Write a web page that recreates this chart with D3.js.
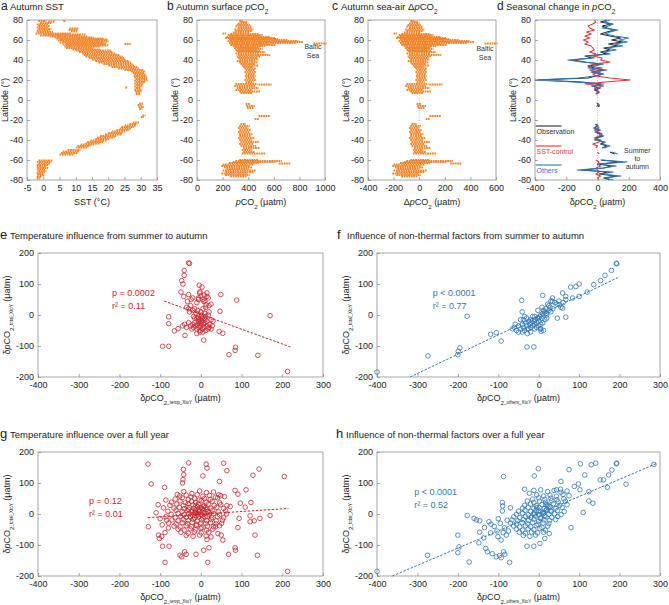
<!DOCTYPE html>
<html><head><meta charset="utf-8">
<script src="https://cdn.jsdelivr.net/npm/d3@7"></script>
<style>body{margin:0;background:#fff}svg{font-family:"Liberation Sans",Arial,sans-serif}</style>
</head><body><svg id="fig" width="669" height="605"></svg>
<script>
// ---------- DATA ----------
const latTicks = [-80,-60,-40,-20,0,20,40,60,80];
const sstTicks = [-5,0,5,10,15,20,25,30,35];
const pco2Ticks = [0,200,400,600,800,1000];
const dpco2Ticks = [-400,-200,0,200,400,600];
const seasTicks = [-400,-200,0,200,400];
const scatXTicks = [-400,-300,-200,-100,0,100,200,300];
const scatYTicks = [-200,-100,0,100,200];

// Panel a: autumn SST, streaks [lat, sstMin, sstMax]
const sstStreaks = [[79,-1.5,0.5],[78.5,1.5,3],[79,6.2,6.5],[77,-1,2],[75.5,-2,1],[74,-1.5,1.5],[72.5,-2,1],[71,-1.5,2],[71.5,8,10.5],[70,7.8,10],[69.5,-2,1.5],[68,-1.8,2.5],[68.5,8.5,10],[66.5,-2.4,8],[65.5,0,12.5],[64.5,-1,11],[63.5,2,13],[62.5,3.5,15],[61.5,4,18],[60.5,5,19.5],[59.5,4.5,19],[58.5,6,19.7],[57.5,5,18],[56.5,7,19],[55.5,6,18.5],[56,25,26.4],[54.5,7,19.5],[53.5,6.5,17],[52,7,15],[50.5,9,17],[49.5,10,20.5],[48,11,21],[46.5,12,22],[45,12.5,23],[43.5,13,24],[42,14,24.5],[40.5,15,25],[39,16,26],[37.5,17,26.5],[36,18.5,27],[34.5,20,27.5],[33,21,28.5],[31.5,23,29],[30,25,30.5],[28.5,27,31],[27,27.5,30.5],[25.5,28,31],[24,27.8,31.3],[22.5,28,31.5],[21,28.5,31.5],[19.5,28,31.6],[18,28.5,31],[16.5,28,30.5],[15,28.5,30],[13.5,28,30],[12.5,25.2,25.5],[12,28.5,29.5],[10.5,28,30],[9,28.2,29.8],[7.5,28.5,29.5],[6,28.5,29.5],[-3.5,29.5,30.2],[-5,29,30],[-7,29.3,30.5],[-9,29.5,30],[-15.5,30.5,31],[-17,30,30.5],[-22.5,27.5,29],[-24,26.5,28.5],[-25.5,25,28],[-27,24,27.5],[-28.5,23.5,26.5],[-30,22.5,26],[-31.5,21,25],[-33,20,24],[-34.5,19,23.5],[-36,17.5,22],[-37.5,16.5,21.5],[-39,16,20],[-40.5,14.5,19],[-42,13.5,18],[-43.5,13,17],[-44.5,11.5,15],[-46,10.5,14],[-47.5,10,13],[-50,7.5,11],[-51.5,6,10.5],[-53,5.5,10],[-54.5,5,9],[-60.5,-1.5,2.5],[-62,-2,2],[-63.5,-1.5,1.5],[-65,-2,1],[-66.5,-2,0.5],[-68,-1.8,1],[-69.5,-2,0],[-71,-1.5,0.5],[-72.5,-2,0],[-74,-2,-0.5],[-75.5,-1.8,0],[-77,-2,-1],[-78.5,-2,-1.5]];

// Panel b: autumn surface pCO2 streaks [lat, min, max]
const pco2Streaks = [[79,330,345],[78,340,380],[76.5,320,390],[75,310,400],[73.5,300,420],[72,320,410],[70.5,290,430],[69,300,420],[67.5,280,400],[66.5,200,215],[66,260,470],[65,240,500],[64,250,480],[63,230,560],[62,220,600],[61,250,620],[60,260,700],[59,240,780],[58,270,820],[57,250,760],[56.5,910,1000],[56,270,560],[55,260,600],[54,280,520],[53,300,480],[52,290,460],[51,320,500],[50,300,450],[49,310,480],[48,320,520],[46.5,300,470],[45,320,560],[43.5,310,480],[42,320,460],[40.5,330,470],[39,310,450],[37.5,330,460],[36,340,440],[34.5,350,470],[33,360,430],[31.5,370,450],[30,380,440],[28,370,450],[26,380,440],[24,375,445],[22,380,440],[20,370,450],[18,380,430],[16,300,460],[15.5,480,570],[14,290,440],[12,310,470],[10,300,420],[8.5,330,480],[7,340,420],[-4,380,400],[-6,385,440],[-8,390,430],[-16,480,560],[-19,450,470],[-24,340,370],[-26,330,400],[-28,320,390],[-30,330,410],[-32,320,400],[-34,330,420],[-36,330,410],[-38,320,440],[-40,330,420],[-42,340,470],[-44,330,430],[-46,340,450],[-48,360,480],[-50,350,420],[-52,360,440],[-53.5,350,520],[-60,330,470],[-61,300,650],[-62,280,600],[-63,250,470],[-63.5,640,720],[-64.5,200,430],[-66,190,400],[-67.5,210,420],[-69,230,390],[-70.5,200,450],[-72,220,430],[-73.5,190,380],[-75,220,400],[-76.5,260,380]];

// Panel c: autumn sea-air delta pCO2 streaks [lat, min, max]
const dpco2Streaks = [[79,-70,-55],[78,-60,-20],[76.5,-80,-10],[75,-90,0],[73.5,-100,20],[72,-80,10],[70.5,-110,30],[69,-100,20],[67.5,-120,0],[66.5,-200,-185],[66,-140,70],[65,-160,100],[64,-150,80],[63,-170,160],[62,-180,200],[61,-150,220],[60,-140,300],[59,-160,380],[58,-130,420],[57,-150,360],[56.5,510,600],[56,-130,160],[55,-140,200],[54,-120,120],[53,-100,80],[52,-110,60],[51,-80,100],[50,-100,50],[49,-90,80],[48,-80,120],[46.5,-100,70],[45,-80,160],[43.5,-90,80],[42,-80,60],[40.5,-70,70],[39,-90,50],[37.5,-70,60],[36,-60,40],[34.5,-50,70],[33,-40,30],[31.5,-30,50],[30,-20,40],[28,-30,50],[26,-20,40],[24,-25,45],[22,-20,40],[20,-30,50],[18,-20,30],[16,-100,60],[15.5,80,170],[14,-110,40],[12,-90,70],[10,-100,20],[8.5,-70,80],[7,-60,20],[-4,-20,0],[-6,-15,40],[-8,-10,30],[-16,80,160],[-19,50,70],[-24,-60,-30],[-26,-70,0],[-28,-80,-10],[-30,-70,10],[-32,-80,0],[-34,-70,20],[-36,-70,10],[-38,-80,40],[-40,-70,20],[-42,-60,70],[-44,-70,30],[-46,-60,50],[-48,-40,80],[-50,-50,20],[-52,-40,40],[-53.5,-50,120],[-60,-70,70],[-61,-100,250],[-62,-120,200],[-63,-150,70],[-63.5,240,320],[-64.5,-200,30],[-66,-210,0],[-67.5,-190,20],[-69,-170,-10],[-70.5,-200,50],[-72,-180,30],[-73.5,-210,-20],[-75,-180,0],[-76.5,-140,-20]];

// Panel d: seasonal change in pCO2 (summer to autumn), by latitude
const seasLat = [80,78,76,74,72,70,68,66,64,62,60,58,56,54,52,50,48,46,44,42,40,38,36,34,32,30,28,26,24,22,20,18,16,14,12,10,8,6,0,-3,-5,-7,-14,-24,-26,-28,-30,-32,-34,-36,-38,-40,-42,-44,-46,-48,-50,-52,-54,-57,-60,-62,-64,-66,-68,-70,-72,-74,-76,-78,-80];
const seasObs = [60,20,90,30,60,110,60,20,80,150,90,160,70,130,40,80,20,60,-80,-40,-160,-80,20,-60,-20,40,-40,30,-10,-60,-380,-100,20,-30,10,-20,10,-10,null,0,10,5,null,-10,0,-20,10,-10,20,30,-10,0,40,20,60,30,null,80,110,null,20,150,0,90,40,-100,70,10,120,40,80];
const seasSST = [-20,-10,-30,-60,-50,-20,-70,-40,-80,-50,-90,-60,-80,-40,-30,-20,-50,-10,-30,30,20,80,-20,-60,30,-50,20,-30,-10,80,210,50,-80,40,-20,0,10,0,null,5,0,-5,null,0,-10,10,-20,5,30,10,-20,20,10,-30,0,-10,null,0,10,null,-10,10,0,20,-10,0,10,-10,20,0,10];
const seasOth = [80,40,100,70,30,130,80,50,110,200,140,190,110,160,60,120,40,80,-60,-20,-190,-100,40,-20,-60,60,-30,40,-20,-120,-400,-150,40,-40,20,-10,0,-10,null,-5,10,10,null,-15,5,-25,20,-15,10,40,0,-20,50,30,80,40,null,90,130,null,30,190,10,120,40,-130,100,20,150,50,100];

// Panels e-h: [x, y] scatter data
const tempSA = [[-30,168],[-28,166],[-41,144],[-41,128],[-47,111],[-44,100],[-49,74],[-42,60],[-30,66],[-24,50],[-33,44],[-4,96],[3,90],[-3,71],[15,71],[-6,55],[7,44],[13,33],[25,35],[49,66],[88,48],[47,12],[170,-2],[-79,-6],[-79,-28],[-65,-51],[-56,-44],[-39,-66],[7,-81],[-94,-101],[-79,-101],[45,-53],[54,-59],[69,-128],[84,-114],[85,-104],[140,-130],[213,-182],
[-35,25],[-30,20],[-28,10],[-25,30],[-20,15],[-18,-5],[-15,20],[-12,5],[-10,-10],[-8,15],[-5,0],[-3,-15],[0,10],[2,-5],[5,20],[8,-10],[10,5],[12,25],[15,-20],[18,0],[20,10],[22,-30],[25,-15],[28,-35],[-40,-30],[-35,-40],[-30,-25],[-25,-35],[-22,-45],[-20,-30],[-18,-40],[-15,-25],[-12,-35],[-10,-45],[-8,-30],[-5,-40],[-3,-25],[-2,-50],[0,-35],[2,-20],[4,-45],[6,-30],[8,-40],[10,-25],[12,-50],[15,-35],[18,-45],[20,-40],[25,-45],[30,-20],[-2,-55],[0,-28],[-5,-20],[3,-10],[-10,40],[-6,50],[5,50],[10,45],[15,60],[0,60],[-2,75],[8,65],[18,55],[20,30],[-45,-35],[-20,55],[-10,-60],[5,-55],[10,-15],[-15,-10],[2,0],[-6,-8],[12,-5]];
const othersSA = [[-400,-184],[-274,-132],[-199,-117],[-200,-128],[-195,-106],[-177,-4],[-119,-62],[-105,-57],[-93,-84],[-29,-103],[-12,-103],[-42,47],[-41,10],[10,63],[46,-10],[67,-7],[6,-52],[4,-44],[192,167],[193,165],[180,144],[164,128],[153,111],[136,98],[120,74],[100,100],[92,92],[79,90],[59,71],[67,60],[34,55],[34,44],[67,50],[84,55],[100,60],[51,33],[59,22],
[-60,-40],[-55,-50],[-50,-35],[-45,-45],[-40,-30],[-38,-40],[-35,-50],[-32,-25],[-30,-35],[-28,-45],[-25,-20],[-22,-30],[-20,-40],[-18,-25],[-15,-35],[-12,-20],[-10,-30],[-8,-15],[-5,-25],[-3,-10],[0,-20],[2,-5],[5,0],[8,-10],[10,5],[12,15],[15,10],[18,20],[20,0],[25,15],[28,25],[30,10],[35,20],[-45,-15],[-40,-55],[-30,-10],[-25,-45],[-20,-15],[-15,-5],[-10,-45],[-5,-40],[0,-35],[5,-30],[10,-25],[15,-15],[20,-10],[-20,-55],[-35,-5],[-50,-55],[-65,-45],[45,35],[40,40],[50,45],[55,25],[60,40],[25,30],[30,45],[-58,-30],[-10,-5],[5,-45],[12,-50],[-28,-60],[0,-10],[18,5],[8,25],[22,35],[-2,15],[-38,-15]];
const tempYear = [[-130,161],[-122,97],[-89,86],[-86,45],[-129,-41],[-110,4],[-104,-68],[-102,-79],[-94,-104],[-78,-104],[-88,-156],[-51,-133],[-47,-138],[-40,-122],[-36,-130],[-43,144],[-42,127],[-44,111],[-45,100],[-30,165],[-12,-130],[7,-117],[17,-156],[20,-109],[15,-82],[25,-74],[13,161],[15,148],[5,123],[56,164],[64,140],[46,105],[68,-130],[84,-109],[85,-117],[91,-44],[94,-14],[97,35],[91,64],[84,76],[111,78],[121,-6],[123,37],[128,125],[143,145],[133,-68],[139,-133],[121,-25],[131,-22],[145,-14],[170,-5],[205,121],[213,-185],[72,24],[109,22],[42,-63],[50,-68],[54,-84],[36,-41],[44,62],[58,56],
[-95,-35],[-88,-60],[-80,-45],[-92,20],[-100,-15],[-105,30],[-96,-72],[-84,-20],
[-42,72],[-22,66],[-3,74],[14,69],[31,71],[-58,63],[-52,58],[-36,61],[-24,55],[-9,62],[5,57],[21,60],[36,54],[49,59],[-63,48],[-46,52],[-31,46],[-16,51],[-4,45],[9,50],[23,47],[41,52],[-72,38],[-51,42],[-38,36],[-23,41],[-12,37],[1,43],[13,38],[28,41],[46,36],[-76,28],[-59,32],[-43,27],[-31,33],[-19,29],[-6,31],[6,26],[18,32],[33,28],[49,30],[64,27],[-66,19],[-53,22],[-41,17],[-29,21],[-17,18],[-8,23],[3,17],[12,21],[25,19],[39,22],[56,18],[-81,9],[-61,12],[-46,8],[-34,11],[-23,7],[-13,12],[-4,9],[7,13],[17,8],[29,11],[43,7],[61,10],[-73,-1],[-56,2],[-41,-2],[-30,1],[-21,-3],[-11,2],[0,-1],[10,3],[21,-2],[31,1],[46,-3],[63,0],[-86,-9],[-63,-12],[-49,-8],[-36,-11],[-26,-7],[-15,-12],[-6,-9],[5,-13],[16,-8],[27,-11],[41,-9],[56,-12],[-71,-19],[-56,-22],[-43,-18],[-31,-21],[-19,-17],[-9,-23],[2,-19],[14,-21],[26,-18],[38,-22],[53,-20],[-79,-29],[-61,-32],[-46,-28],[-33,-31],[-21,-27],[-11,-33],[0,-29],[12,-31],[24,-28],[37,-32],[51,-30],[-66,-39],[-51,-42],[-36,-38],[-23,-41],[-11,-37],[2,-43],[16,-39],[31,-41],[46,-38],[-56,-49],[-41,-52],[-26,-48],[-13,-51],[0,-47],[14,-52],[29,-49],[-49,-59],[-31,-62],[-16,-58],[1,-61],[19,-59],[-36,-69],[-19,-72],[-3,-68],[13,-71],[-15,5],[-5,15],[5,5],[-10,-5],[0,20],[-20,10],[10,-10],[-8,0],[3,-4],[-3,8],[15,15],[-25,-10],[8,25],[-12,28],[20,5],[-30,15]];
const othersYear = [[-400,-185],[-275,-133],[-200,-68],[-200,-125],[-197,-106],[-172,-155],[-177,-5],[-160,-14],[-154,-19],[-146,-22],[-123,-25],[-134,-44],[-146,-59],[-148,-93],[-136,-77],[-131,-111],[-127,-122],[-115,-128],[-105,-138],[-97,-134],[-93,-141],[-87,-122],[-84,-130],[-72,-156],[-87,121],[-90,37],[-89,26],[-93,-84],[-101,-73],[-103,-55],[-119,-61],[-80,-68],[-11,123],[-1,146],[-29,-104],[-12,-104],[-35,80],[-23,67],[-12,76],[75,143],[103,162],[114,126],[130,159],[141,164],[152,110],[160,110],[173,126],[181,142],[192,162],[193,164],[170,86],[216,96],[285,160],[98,97],[88,89],[102,78],[124,72],[124,42],[134,35],[110,5],[80,-44],[55,105],[54,80],[44,78],[3,-95],[15,-79],[26,-63],
[-95,-30],[-85,-45],[-78,-20],[-90,10],[-110,-40],[-100,-15],[-70,20],[-75,-55],[-118,-33],[-88,-60],
[5,78],[22,72],[38,76],[55,70],[70,74],[-5,62],[12,58],[28,61],[44,57],[60,63],[75,59],[-15,48],[0,52],[15,47],[30,51],[45,46],[62,49],[-28,42],[-12,37],[2,41],[17,38],[32,43],[48,39],[66,41],[-35,28],[-20,32],[-6,27],[8,31],[22,29],[36,33],[52,28],[70,30],[-40,19],[-26,22],[-12,18],[1,21],[14,17],[28,23],[42,19],[58,21],[-50,9],[-34,12],[-20,8],[-7,11],[5,7],[18,12],[31,9],[46,11],[63,8],[-55,-1],[-40,2],[-26,-2],[-13,1],[0,-3],[12,2],[25,-1],[39,1],[55,-2],[-62,-9],[-47,-12],[-33,-8],[-20,-11],[-8,-7],[5,-12],[18,-9],[32,-11],[47,-8],[-66,-19],[-52,-22],[-38,-18],[-25,-21],[-12,-17],[0,-23],[13,-19],[27,-21],[42,-18],[-70,-29],[-55,-32],[-41,-28],[-28,-31],[-15,-27],[-2,-33],[11,-29],[25,-31],[-62,-39],[-47,-42],[-33,-38],[-20,-41],[-6,-37],[8,-43],[22,-39],[-55,-49],[-40,-52],[-26,-48],[-12,-51],[3,-47],[17,-52],[-48,-59],[-33,-62],[-18,-58],[-3,-61],[12,-59],[-38,-69],[-22,-72],[-8,-68],[10,5],[20,15],[0,10],[15,-5],[25,25],[5,-15],[-10,0],[30,10],[18,30],[-5,20]];

// Regression fits (end points) and statistics
const fitE = [[-90,45],[220,-103]];
const fitF = [[-318,-200],[198,122]];
const fitG = [[-130,-12],[215,18]];
const fitH = [[-362,-200],[290,162]];
const statsE = ["p = 0.0002","r² = 0.11"];
const statsF = ["p < 0.0001","r² = 0.77"];
const statsG = ["p = 0.12","r² = 0.01"];
const statsH = ["p < 0.0001","r² = 0.52"];

// ---------- DRAWING ----------
const svg = d3.select("#fig");
const ORANGE = "#f0862c", RED = "#c3272f", BLUE = "#2f76b5";
const FRAME = "#8f8f8f", TXT = "#222";

function rich(g, x, y, parts, o) {
  const t = g.append("text").attr("x", x).attr("y", y).attr("font-size", o.size)
    .attr("text-anchor", o.anchor || "middle").attr("fill", o.fill || TXT);
  if (o.rotate) t.attr("transform", `rotate(-90,${x},${y})`);
  parts.forEach(p => {
    const s = t.append("tspan").text(p[0]);
    if (p[1] === "i") s.attr("font-style", "italic");
    if (p[1] === "s") s.attr("baseline-shift", "sub").attr("font-size", o.size * 0.68);
    if (p[1] === "ss") s.attr("baseline-shift", "sub").attr("font-size", o.size * 0.5);
  });
  return t;
}

function panel(b, xdom, ydom, xt, yt) {
  const x = d3.scaleLinear().domain(xdom).range([b.l, b.r]);
  const y = d3.scaleLinear().domain(ydom).range([b.b, b.t]);
  const g = svg.append("g");
  const ax = g.append("g").attr("transform", `translate(0,${b.b})`)
    .call(d3.axisBottom(x).tickValues(xt).tickSize(-3).tickPadding(5).tickFormat(d => String(d)));
  const ay = g.append("g").attr("transform", `translate(${b.l},0)`)
    .call(d3.axisLeft(y).tickValues(yt).tickSize(-3).tickPadding(4).tickFormat(d => String(d)));
  [ax, ay].forEach(a => {
    a.select(".domain").remove();
    a.selectAll("line").attr("stroke", FRAME).attr("stroke-width", 0.8);
    a.selectAll("text").attr("fill", TXT).attr("font-size", 9).attr("font-family", "Liberation Sans, Arial, sans-serif");
  });
  const plot = g.append("g");
  g.append("rect").attr("x", b.l).attr("y", b.t).attr("width", b.r - b.l).attr("height", b.b - b.t)
    .attr("fill", "none").attr("stroke", FRAME).attr("stroke-width", 0.8);
  return { g, plot, x, y };
}

function title(x, y, letter, parts, sizeL) {
  svg.append("text").attr("x", x).attr("y", y).attr("font-size", sizeL).attr("fill", TXT).text(letter);
  rich(svg, x + (sizeL > 12 ? 10 : 9), y, parts, { size: 9.5, anchor: "start" });
}

function streaks(p, data) {
  p.plot.selectAll(null).data(data).join("line")
    .attr("x1", d => p.x(d[1])).attr("x2", d => p.x(d[2]) + 1.6)
    .attr("y1", d => p.y(d[0])).attr("y2", d => p.y(d[0]))
    .attr("stroke", ORANGE).attr("stroke-width", 2.1).attr("stroke-dasharray", "1.8,0.6");
}

const TOP = { t: 20, b: 180 };
const boxA = { l: 27, r: 157, ...TOP }, boxB = { l: 197, r: 325, ...TOP },
      boxC = { l: 368, r: 496, ...TOP }, boxD = { l: 535, r: 660, ...TOP };
const latLabel = [["Latitude (°)", ""]];

// a
const pa = panel(boxA, [-5, 35], [-80, 80], sstTicks, latTicks);
streaks(pa, sstStreaks);
title(1, 10, "a", [["Autumn SST", ""]], 12);
rich(svg, (boxA.l + boxA.r) / 2, 205, [["SST (°C)", ""]], { size: 9 });
rich(svg, boxA.l - 19, 100, latLabel, { size: 9, rotate: true });

// b
const pb = panel(boxB, [0, 1000], [-80, 80], pco2Ticks, latTicks);
streaks(pb, pco2Streaks);
title(167, 10, "b", [["Autumn surface ", ""], ["p", "i"], ["CO", ""], ["2", "s"]], 12);
rich(svg, (boxB.l + boxB.r) / 2, 205, [["p", "i"], ["CO", ""], ["2", "s"], [" (μatm)", ""]], { size: 9 });
rich(svg, boxB.l - 19, 100, latLabel, { size: 9, rotate: true });
rich(svg, 313, 49, [["Baltic", ""]], { size: 7, fill: "#333" });
rich(svg, 313, 58, [["Sea", ""]], { size: 7, fill: "#333" });

// c
const pc = panel(boxC, [-400, 600], [-80, 80], dpco2Ticks, latTicks);
pc.plot.append("line").attr("x1", pc.x(0)).attr("x2", pc.x(0)).attr("y1", boxC.t).attr("y2", boxC.b)
  .attr("stroke", "#aaa").attr("stroke-width", 0.8).attr("stroke-dasharray", "1,1.5");
streaks(pc, dpco2Streaks);
title(332, 10, "c", [["Autumn sea-air Δ", ""], ["p", "i"], ["CO", ""], ["2", "s"]], 12);
rich(svg, (boxC.l + boxC.r) / 2, 205, [["Δ", ""], ["p", "i"], ["CO", ""], ["2", "s"], [" (μatm)", ""]], { size: 9 });
rich(svg, boxC.l - 19, 100, latLabel, { size: 9, rotate: true });
rich(svg, 485, 51, [["Baltic", ""]], { size: 7, fill: "#333" });
rich(svg, 485, 60, [["Sea", ""]], { size: 7, fill: "#333" });

// d
const pd = panel(boxD, [-400, 400], [-80, 80], seasTicks, latTicks);
pd.plot.append("line").attr("x1", pd.x(0)).attr("x2", pd.x(0)).attr("y1", boxD.t).attr("y2", boxD.b)
  .attr("stroke", "#aaa").attr("stroke-width", 0.8).attr("stroke-dasharray", "1,1.5");
const seasSeries = [[seasObs, "#2a2a2a"], [seasSST, "#d23a3f"], [seasOth, "#2b78bd"]];
seasSeries.forEach(([vals, col]) => {
  const line = d3.line().defined((d, i) => vals[i] != null)
    .x((d, i) => pd.x(vals[i])).y(d => pd.y(d));
  pd.plot.append("path").attr("d", line(seasLat)).attr("fill", "none")
    .attr("stroke", col).attr("stroke-width", 1.1).attr("stroke-linejoin", "round");
});
const legD = [["Observation", "#2a2a2a", -26], ["SST-control", "#d23a3f", -46], ["Others", "#2b78bd", -65]];
legD.forEach(([lab, col, lat]) => {
  pd.plot.append("line").attr("x1", pd.x(-395)).attr("x2", pd.x(-230)).attr("y1", pd.y(lat)).attr("y2", pd.y(lat))
    .attr("stroke", col).attr("stroke-width", 1.1);
  pd.plot.append("text").attr("x", pd.x(-390)).attr("y", pd.y(lat - 8)).attr("font-size", 7).attr("fill", col).text(lab);
});
[["Summer", -53], ["to", -61], ["autumn", -69]].forEach(([t, lat]) => {
  pd.plot.append("text").attr("x", pd.x(255)).attr("y", pd.y(lat)).attr("font-size", 7)
    .attr("text-anchor", "middle").attr("fill", "#333").text(t);
});
title(497, 10, "d", [["Seasonal change in ", ""], ["p", "i"], ["CO", ""], ["2", "s"]], 12);
rich(svg, (boxD.l + boxD.r) / 2, 205, [["δ", ""], ["p", "i"], ["CO", ""], ["2", "s"], [" (μatm)", ""]], { size: 9 });
rich(svg, boxD.l - 19, 100, latLabel, { size: 9, rotate: true });

// scatter panels
function scatter(box, data, fit, stats, col, statPos) {
  const p = panel(box, [-400, 300], [-200, 200], scatXTicks, scatYTicks);
  p.plot.selectAll(null).data(data).join("circle")
    .attr("cx", d => p.x(d[0])).attr("cy", d => p.y(d[1])).attr("r", 2.3)
    .attr("fill", "none").attr("stroke", col).attr("stroke-width", 0.8);
  p.plot.append("path").attr("d", d3.line().x(d => p.x(d[0])).y(d => p.y(d[1]))(fit))
    .attr("stroke", col).attr("stroke-width", 1).attr("stroke-dasharray", "2.5,1.5").attr("fill", "none");
  stats.forEach((s, i) => {
    p.plot.append("text").attr("x", p.x(statPos[0])).attr("y", p.y(statPos[1]) + i * 13)
      .attr("font-size", 9).attr("fill", col).text(s);
  });
  return p;
}
const boxE = { l: 38, r: 323, t: 253, b: 377 }, boxF = { l: 377, r: 660, t: 253, b: 377 };
const boxG = { l: 38, r: 323, t: 452, b: 576 }, boxH = { l: 377, r: 660, t: 452, b: 576 };

scatter(boxE, tempSA, fitE, statsE, RED, [-218, 60]);
scatter(boxF, othersSA, fitF, statsF, BLUE, [-262, 60]);
scatter(boxG, tempYear, fitG, statsG, RED, [-275, 32]);
scatter(boxH, othersYear, fitH, statsH, BLUE, [-308, 62]);

title(0, 239, "e", [["Temperature influence from summer to autumn", ""]], 13);
title(337, 239, "f", [["Influence of non-thermal factors from summer to autumn", ""]], 13);
title(0, 438, "g", [["Temperature influence over a full year", ""]], 13);
title(336, 438, "h", [["Influence of non-thermal factors over a full year", ""]], 13);

function xlab(box, y, which) {
  rich(svg, (box.l + box.r) / 2, y, [["δ", ""], ["p", "i"], ["CO", ""], ["2", "s"], [which, "ss"], [" (μatm)", ""]], { size: 9 });
}
function ylab(box) {
  rich(svg, box.l - 28, (box.t + box.b) / 2, [["δ", ""], ["p", "i"], ["CO", ""], ["2", "s"], ["_total_XtoY", "ss"], [" (μatm)", ""]], { size: 9, rotate: true });
}
xlab(boxE, 401, "_temp_XtoY"); xlab(boxF, 401, "_others_XtoY");
xlab(boxG, 600, "_temp_XtoY"); xlab(boxH, 600, "_others_XtoY");
[boxE, boxF, boxG, boxH].forEach(ylab);
</script></body></html>
